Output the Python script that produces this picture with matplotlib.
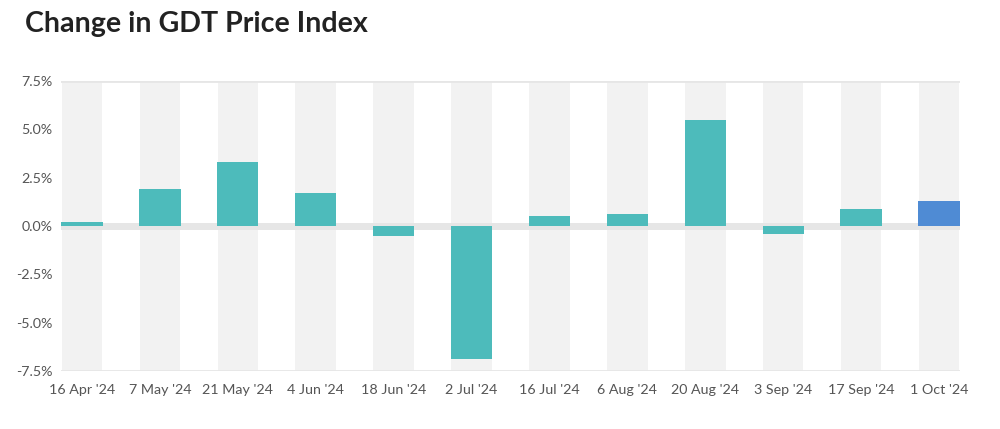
import matplotlib.pyplot as plt

# GDT price index change per auction
dates = ["16 Apr '24", "7 May '24", "21 May '24", "4 Jun '24", "18 Jun '24", "2 Jul '24",
         "16 Jul '24", "6 Aug '24", "20 Aug '24", "3 Sep '24", "17 Sep '24", "1 Oct '24"]
change = [0.2, 1.9, 3.3, 1.7, -0.5, -6.9, 0.5, 0.6, 5.5, -0.4, 0.9, 1.3]
yticks = [-7.5, -5.0, -2.5, 0.0, 2.5, 5.0, 7.5]

teal = '#4dbbbb'
blue = '#4f8bd4'
colors = [teal] * (len(change) - 1) + [blue]

plt.rcParams['font.family'] = ['Lato', 'DejaVu Sans']

fig = plt.figure(figsize=(10, 4.29), dpi=100)
ax = fig.add_axes([0.061, 0.135, 0.899, 0.676])

x = list(range(len(dates)))

# grey column bands behind each bar
ax.bar(x, [15] * len(x), bottom=-7.5, width=0.52, color='#f2f2f2', zorder=0)

ax.axhline(0, color='#e6e6e6', lw=5, zorder=1)
ax.axhline(7.5, color='#e6e6e6', lw=2, zorder=1)
ax.axhline(-7.5, color='#e6e6e6', lw=2, zorder=1)

ax.bar(x, change, width=0.53, color=colors, zorder=2)

ax.set_xlim(-0.27, len(x) - 1 + 0.27)
ax.set_ylim(-7.5, 7.5)
ax.set_yticks(yticks)
ax.set_yticklabels([f'{v:.1f}%' for v in yticks])
ax.set_xticks(x)
ax.set_xticklabels(dates)
ax.tick_params(length=0, labelsize=10.3, colors='#555555')
ax.tick_params(axis='x', pad=9)
ax.tick_params(axis='y', pad=6)
for s in ax.spines.values():
    s.set_visible(False)

fig.text(0.025, 0.945, 'Change in GDT Price Index', fontsize=20.6, fontweight='bold',
         color='#222222', va='center', ha='left')

fig.savefig('out.png', dpi=100)
